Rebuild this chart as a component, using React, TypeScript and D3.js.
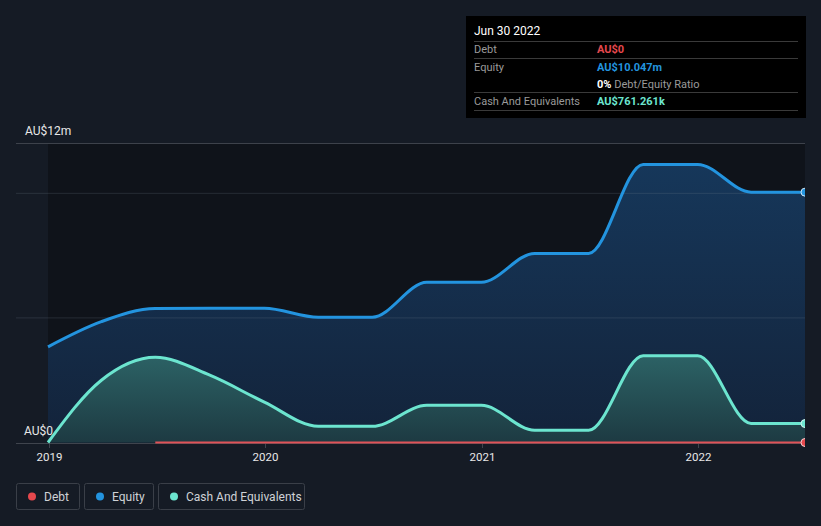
import * as d3 from "d3";
import React from "react";

// quarter ends, Dec 2018 .. Jun 2022
const dates = [
  "2018-12-31", "2019-03-31", "2019-06-30", "2019-09-30", "2019-12-31",
  "2020-03-31", "2020-06-30", "2020-09-30", "2020-12-31", "2021-03-31",
  "2021-06-30", "2021-09-30", "2021-12-31", "2022-03-31", "2022-06-30",
];
// AU$ millions
const equity = [3.84, 4.85, 5.38, 5.39, 5.39, 5.03, 5.03, 6.43, 6.43, 7.59, 7.59, 11.16, 11.16, 10.047, 10.047];
const cash = [0, 2.5, 3.42, 2.7, 1.62, 0.65, 0.65, 1.49, 1.49, 0.49, 0.49, 3.48, 3.48, 0.761, 0.761];
const debtStart = 2; // debt reported from Jun 2019
const debt = [0, 0, 0, 0, 0, 0, 0, 0, 0, 0, 0, 0, 0];
const yearTicks = [2019, 2020, 2021, 2022];
const gridValues = [5, 10, 12];

const W = 821;
const H = 526;
const FONT = "Roboto, 'Open Sans', sans-serif";

export default function App() {
  const parse = d3.timeParse("%Y-%m-%d");
  const dt = dates.map((d) => parse(d) as Date);

  const x = d3
    .scaleTime()
    .domain([dt[0], dt[dt.length - 1]])
    .range([48, 805]);
  const y = d3.scaleLinear().domain([0, 12]).range([442.5, 143.5]);

  const eqData = dt.map((d, i) => ({ d, v: equity[i] }));
  const cashData = dt.map((d, i) => ({ d, v: cash[i] }));
  const debtData = debt.map((v, i) => ({ d: dt[i + debtStart], v }));

  const line = d3
    .line<{ d: Date; v: number }>()
    .x((p) => x(p.d))
    .y((p) => y(p.v))
    .curve(d3.curveMonotoneX);
  const area = d3
    .area<{ d: Date; v: number }>()
    .x((p) => x(p.d))
    .y0(y(0))
    .y1((p) => y(p.v))
    .curve(d3.curveMonotoneX);

  const last = dt[dt.length - 1];

  const legend = [
    { label: "Debt", color: "#e5484d", x: 16, w: 63 },
    { label: "Equity", color: "#2394df", x: 84, w: 69 },
    { label: "Cash And Equivalents", color: "#6ce5cf", x: 158, w: 146 },
  ];

  const rows = [
    { label: "Debt", value: "AU$0", color: "#e5484d", y: 49 },
    { label: "Equity", value: "AU$10.047m", color: "#2394df", y: 66.5 },
    { label: "Cash And Equivalents", value: "AU$761.261k", color: "#6ce5cf", y: 100.5 },
  ];

  return (
    <svg
      width={W}
      height={H}
      style={{ position: "absolute", left: 0, top: 0, display: "block" }}
      fontFamily={FONT}
    >
      <defs>
        <linearGradient id="eqFill" x1="0" y1="0" x2="0" y2="1">
          <stop offset="0%" stopColor="#16375a" />
          <stop offset="100%" stopColor="#13233a" />
        </linearGradient>
        <linearGradient id="cashFill" x1="0" y1="0" x2="0" y2="1">
          <stop offset="0%" stopColor="#2c6265" />
          <stop offset="100%" stopColor="#1d3a42" />
        </linearGradient>
        <clipPath id="plot">
          <rect x={40} y={130} width={765} height={320} />
        </clipPath>
      </defs>
      <rect width={W} height={H} fill="#151b25" />
      <rect x={48} y={143.5} width={757} height={299} fill="#0f131a" />

      <g clipPath="url(#plot)">
        <path d={area(eqData) ?? ""} fill="url(#eqFill)" />
        <path d={area(cashData) ?? ""} fill="url(#cashFill)" />
      </g>

      {gridValues.map((g) => (
        <line
          key={g}
          x1={16}
          x2={805}
          y1={y(g)}
          y2={y(g)}
          stroke={g === 12 ? "#3d424b" : "rgba(120,130,145,0.22)"}
          strokeWidth={1}
        />
      ))}
      <line x1={16} x2={805} y1={443.5} y2={443.5} stroke="#3f444d" strokeWidth={1} />
      {yearTicks.map((yr) => {
        const tx = Math.round(x(new Date(yr, 0, 1))) + 0.5;
        return (
          <g key={yr}>
            <line x1={tx} x2={tx} y1={443.5} y2={448} stroke="#3f444d" />
            <text x={tx} y={461} textAnchor="middle" fontSize={11.5} fill="#e8e8e8">
              {yr}
            </text>
          </g>
        );
      })}

      <g clipPath="url(#plot)">
        <path d={line(debtData) ?? ""} fill="none" stroke="#e05358" strokeWidth={2} />
        <path d={line(eqData) ?? ""} fill="none" stroke="#2394df" strokeWidth={3} />
        <path d={line(cashData) ?? ""} fill="none" stroke="#6ce5cf" strokeWidth={3} />
        <circle cx={x(last)} cy={y(equity[equity.length - 1])} r={4} fill="#2394df" stroke="#cfe6f7" strokeWidth={1} />
        <circle cx={x(last)} cy={y(cash[cash.length - 1])} r={4} fill="#6ce5cf" stroke="#d5f7f0" strokeWidth={1} />
        <circle cx={x(last)} cy={y(debt[debt.length - 1])} r={4} fill="#e5484d" stroke="#f7d0d2" strokeWidth={1} />
      </g>

      <text x={25} y={135} fontSize={12} fill="#e8e8e8">AU$12m</text>
      <text x={24} y={435} fontSize={12} fill="#e8e8e8">AU$0</text>

      {/* tooltip */}
      <rect x={466} y={16} width={340} height={102} fill="#000000" />
      <text x={474} y={35} fontSize={12} fill="#ffffff">Jun 30 2022</text>
      {[41.5, 58.5, 92.5, 110.5].map((ly) => (
        <line key={ly} x1={474} x2={798} y1={ly} y2={ly} stroke="#3a3a3a" />
      ))}
      {rows.map((r) => (
        <g key={r.label}>
          <text x={474} y={r.y + 4} fontSize={11} fill="#9a9a9a">{r.label}</text>
          <text x={597} y={r.y + 4} fontSize={11} fontWeight="bold" fill={r.color}>
            {r.value}
          </text>
        </g>
      ))}
      <text x={597} y={87.5} fontSize={11}>
        <tspan fill="#ffffff" fontWeight="bold">0%</tspan>
        <tspan fill="#9a9a9a"> Debt/Equity Ratio</tspan>
      </text>

      {/* legend */}
      {legend.map((l) => (
        <g key={l.label}>
          <rect x={l.x + 0.5} y={483.5} width={l.w} height={26} rx={2} fill="none" stroke="#3a3f48" />
          <circle cx={l.x + 16} cy={496.5} r={4} fill={l.color} />
          <text x={l.x + 28} y={500.5} fontSize={12} fill="#cfd2d6">{l.label}</text>
        </g>
      ))}
    </svg>
  );
}
